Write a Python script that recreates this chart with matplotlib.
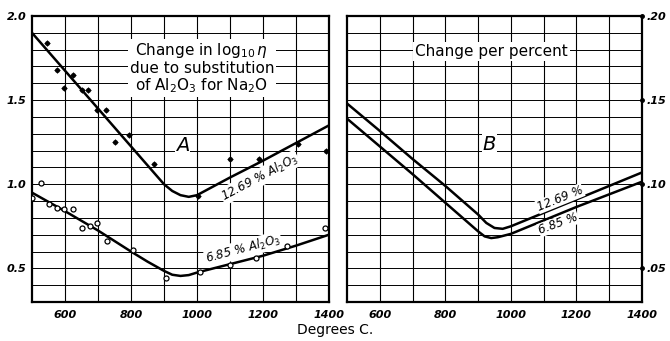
import matplotlib
matplotlib.use("Agg")
import matplotlib.pyplot as plt
import numpy as np

# ---- data ----
# Panel A: points
a_hi_x = [545, 576, 597, 625, 651, 670, 697, 724, 751, 795, 870, 1003, 1100, 1188, 1306, 1390]
a_hi_y = [1.84, 1.68, 1.57, 1.65, 1.56, 1.56, 1.44, 1.44, 1.25, 1.29, 1.12, 0.93, 1.15, 1.15, 1.24, 1.20]
a_lo_x = [500, 527, 552, 576, 597, 625, 651, 676, 697, 727, 806, 906, 1009, 1100, 1179, 1273, 1388]
a_lo_y = [0.92, 1.01, 0.88, 0.86, 0.85, 0.85, 0.74, 0.75, 0.77, 0.66, 0.61, 0.44, 0.48, 0.52, 0.56, 0.63, 0.74]
# Panel A: curves
a_hi_cx = [500, 600, 700, 800, 900, 925, 950, 975, 1000, 1100, 1200, 1300, 1400]
a_hi_cy = [1.90, 1.675, 1.45, 1.225, 1.0, 0.96, 0.935, 0.925, 0.935, 1.04, 1.14, 1.245, 1.35]
a_lo_cx = [500, 600, 700, 800, 850, 900, 925, 950, 975, 1000, 1100, 1200, 1300, 1400]
a_lo_cy = [0.95, 0.84, 0.725, 0.60, 0.54, 0.485, 0.462, 0.455, 0.46, 0.475, 0.525, 0.575, 0.635, 0.70]
# Panel B: curves
b_hi_x = [500, 600, 700, 800, 900, 925, 950, 975, 1000, 1100, 1200, 1300, 1400]
b_hi_y = [0.148, 0.1317, 0.115, 0.099, 0.082, 0.077, 0.074, 0.0735, 0.075, 0.083, 0.091, 0.099, 0.107]
b_lo_x = [500, 600, 700, 800, 900, 920, 940, 960, 1000, 1100, 1200, 1300, 1400]
b_lo_y = [0.139, 0.1225, 0.106, 0.089, 0.072, 0.069, 0.068, 0.0685, 0.0705, 0.0785, 0.0865, 0.094, 0.1015]

xticks = [600, 800, 1000, 1200, 1400]
xtick_labels = ["600", "800", "1000", "1200", "1400"]
a_yticks = [0.5, 1.0, 1.5, 2.0]
a_ytick_labels = ["0.5", "1.0", "1.5", "2.0"]
b_yticks = [0.05, 0.10, 0.15, 0.20]
b_ytick_labels = [".05", ".10", ".15", ".20"]

plt.rcParams['font.family'] = ['DejaVu Sans']
fig = plt.figure(figsize=(6.7, 3.41), dpi=100)
axA = fig.add_axes([32/670, 39/341, 297/670, 286/341])
axB = fig.add_axes([347/670, 39/341, 295/670, 286/341])

tickfont = dict(fontsize=8, style='italic', fontweight='bold')

def style(ax, ylo, yhi, ystep):
    ax.set_xlim(500, 1400)
    ax.set_ylim(ylo, yhi)
    for xv in np.arange(600, 1400, 100):
        ax.axvline(xv, color='black', lw=0.8, zorder=1)
    for yv in np.arange(ylo + ystep, yhi - ystep / 2, ystep):
        ax.axhline(yv, color='black', lw=0.7, zorder=1)
    for s in ax.spines.values():
        s.set_linewidth(1.6)
    ax.tick_params(length=0, pad=6)
    ax.set_xticks(xticks)
    ax.set_xticklabels(xtick_labels, **tickfont)

style(axA, 0.3, 2.0, 0.1)
axA.set_yticks(a_yticks)
axA.set_yticklabels(a_ytick_labels, **tickfont)
axA.tick_params(axis='y', pad=4)

axA.plot(a_hi_cx, a_hi_cy, color='black', lw=1.8, zorder=3)
axA.plot(a_lo_cx, a_lo_cy, color='black', lw=1.8, zorder=3)
axA.plot(a_hi_x, a_hi_y, linestyle='none', marker='o', ms=2.6, color='black', zorder=4)
axA.plot(a_hi_x, a_hi_y, linestyle='none', marker='+', ms=5, mew=0.8, color='black', zorder=4)
axA.plot(a_lo_x, a_lo_y, linestyle='none', marker='o', ms=3.6, mfc='white', mec='black', mew=0.9, zorder=4)

axA.text(1015, 1.69, "Change in log$_{10}\\,\\eta$\ndue to substitution\nof Al$_2$O$_3$ for Na$_2$O",
         ha='center', va='center', fontsize=11, linespacing=1.05,
         bbox=dict(facecolor='white', edgecolor='none', pad=1.5), zorder=5)
axA.text(957, 1.23, "A", fontsize=14, style='italic', ha='center', va='center',
         bbox=dict(facecolor='white', edgecolor='none', pad=0.5), zorder=5)
axA.text(1190, 1.04, "12.69 % Al$_2$O$_3$", fontsize=8.5, style='italic', rotation=28,
         ha='center', va='center', rotation_mode='anchor',
         bbox=dict(facecolor='white', edgecolor='none', pad=0.5), zorder=5)
axA.text(1140, 0.615, "6.85 % Al$_2$O$_3$", fontsize=8.5, style='italic', rotation=15,
         ha='center', va='center', rotation_mode='anchor',
         bbox=dict(facecolor='white', edgecolor='none', pad=0.5), zorder=5)

style(axB, 0.03, 0.20, 0.01)
axB.yaxis.tick_right()
axB.set_yticks(b_yticks)
axB.set_yticklabels(b_ytick_labels, **tickfont)
axB.tick_params(axis='y', pad=3)
axB.plot(b_hi_x, b_hi_y, color='black', lw=1.8, zorder=3)
axB.plot(b_lo_x, b_lo_y, color='black', lw=1.8, zorder=3)
axB.plot([1400] * len(b_yticks), b_yticks, linestyle='none', marker='o', ms=2.5,
         color='black', clip_on=False, zorder=6)

axB.text(940, 0.179, "Change per percent", ha='center', va='center', fontsize=11,
         bbox=dict(facecolor='white', edgecolor='none', pad=1.5), zorder=5)
axB.text(935, 0.1235, "B", fontsize=14, style='italic', ha='center', va='center',
         bbox=dict(facecolor='white', edgecolor='none', pad=0.5), zorder=5)
axB.text(1150, 0.0915, "12.69 %", fontsize=8.5, style='italic', rotation=22,
         ha='center', va='center', rotation_mode='anchor',
         bbox=dict(facecolor='white', edgecolor='none', pad=0.3), zorder=5)
axB.text(1145, 0.0765, "6.85 %", fontsize=8.5, style='italic', rotation=20,
         ha='center', va='center', rotation_mode='anchor',
         bbox=dict(facecolor='white', edgecolor='none', pad=0.3), zorder=5)

fig.text(335/670, 1 - 330/341, "Degrees C.", ha='center', va='center', fontsize=10)

fig.savefig("out.png", dpi=100)
